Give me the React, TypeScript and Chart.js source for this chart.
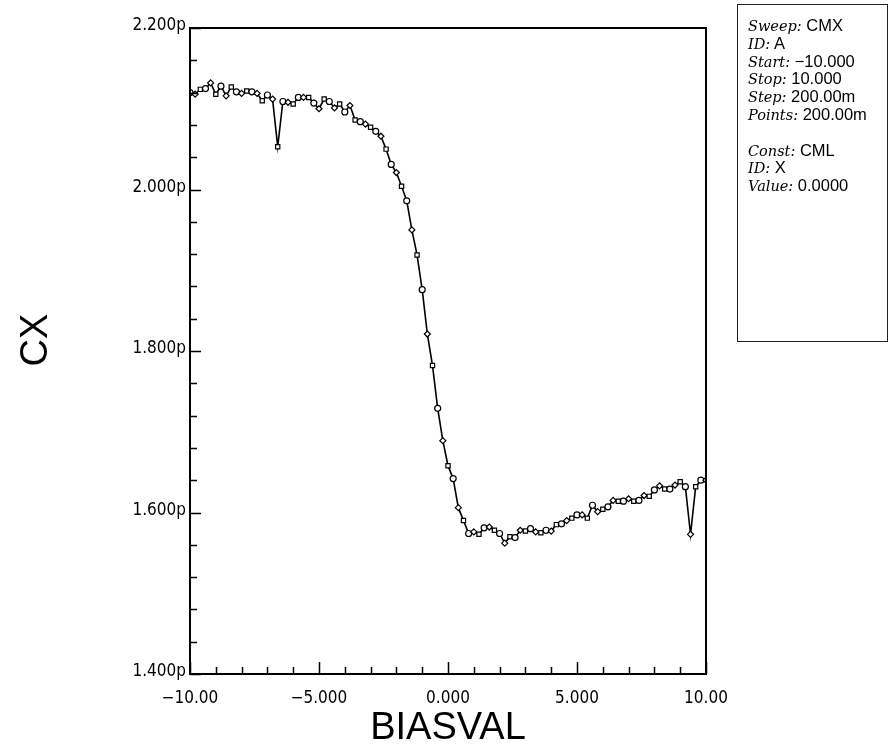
import React, { useEffect, useRef } from 'react';
import { Chart, registerables } from 'chart.js';

Chart.register(...registerables);

// Sweep values (BIASVAL)
const BIAS = [
  -10.0, -9.8, -9.6, -9.4, -9.2, -9.0, -8.8, -8.6, -8.4, -8.2,
  -8.0, -7.8, -7.6, -7.4, -7.2, -7.0, -6.8, -6.6, -6.4, -6.2,
  -6.0, -5.8, -5.6, -5.4, -5.2, -5.0, -4.8, -4.6, -4.4, -4.2,
  -4.0, -3.8, -3.6, -3.4, -3.2, -3.0, -2.8, -2.6, -2.4, -2.2,
  -2.0, -1.8, -1.6, -1.4, -1.2, -1.0, -0.8, -0.6, -0.4, -0.2,
  0.0, 0.2, 0.4, 0.6, 0.8, 1.0, 1.2, 1.4, 1.6, 1.8,
  2.0, 2.2, 2.4, 2.6, 2.8, 3.0, 3.2, 3.4, 3.6, 3.8,
  4.0, 4.2, 4.4, 4.6, 4.8, 5.0, 5.2, 5.4, 5.6, 5.8,
  6.0, 6.2, 6.4, 6.6, 6.8, 7.0, 7.2, 7.4, 7.6, 7.8,
  8.0, 8.2, 8.4, 8.6, 8.8, 9.0, 9.2, 9.4, 9.6, 9.8,
  10.0,
];

// Measured capacitance CX (pF)
const CX = [
  2.120, 2.118, 2.124, 2.125, 2.132, 2.118, 2.128, 2.116, 2.127, 2.121,
  2.119, 2.122, 2.121, 2.119, 2.110, 2.117, 2.112, 2.053, 2.109, 2.108,
  2.106, 2.114, 2.114, 2.114, 2.107, 2.100, 2.112, 2.109, 2.101, 2.106,
  2.096, 2.104, 2.086, 2.084, 2.081, 2.077, 2.072, 2.066, 2.050, 2.031,
  2.021, 2.004, 1.986, 1.950, 1.919, 1.876, 1.821, 1.782, 1.729, 1.689,
  1.658, 1.642, 1.606, 1.590, 1.574, 1.576, 1.573, 1.581, 1.582, 1.578,
  1.574, 1.562, 1.570, 1.569, 1.578, 1.577, 1.580, 1.576, 1.575, 1.578,
  1.577, 1.585, 1.586, 1.590, 1.593, 1.597, 1.597, 1.593, 1.609, 1.601,
  1.604, 1.607, 1.615, 1.614, 1.614, 1.617, 1.614, 1.615, 1.621, 1.620,
  1.628, 1.633, 1.629, 1.629, 1.634, 1.638, 1.632, 1.573, 1.632, 1.640,
  1.640,
];

const X_MAJOR = [-10, -5, 0, 5, 10];
const X_LABELS = ['\u221210.00', '\u22125.000', '0.000', '5.000', '10.00'];
const X_MINOR = [-9, -8, -7, -6, -4, -3, -2, -1, 1, 2, 3, 4, 6, 7, 8, 9];
const Y_MAJOR = [1.4, 1.6, 1.8, 2.0, 2.2];
const Y_LABELS = ['1.400p', '1.600p', '1.800p', '2.000p', '2.200p'];
const Y_MINOR = [1.44, 1.48, 1.52, 1.56, 1.64, 1.68, 1.72, 1.76, 1.84, 1.88, 1.92, 1.96, 2.04, 2.08, 2.12, 2.16];
const MARKERS = ['circle', 'rectRot', 'rect'];
const X_TITLE = 'BIASVAL';
const Y_TITLE = 'CX';

const LEGEND_LINES: [string, string][] = [
  ['Sweep:', 'CMX'],
  ['ID:', 'A'],
  ['Start:', '\u221210.000'],
  ['Stop:', '10.000'],
  ['Step:', '200.00m'],
  ['Points:', '200.00m'],
  ['', ''],
  ['Const:', 'CML'],
  ['ID:', 'X'],
  ['Value:', '0.0000'],
];

const NARROW = "'Liberation Sans Narrow', 'DejaVu Sans Condensed', 'Liberation Sans', sans-serif";

const axesPlugin = {
  id: 'hpAxes',
  afterDraw(chart: any) {
    const { ctx, chartArea, scales } = chart;
    const xs = scales.x;
    const ys = scales.y;
    const { left, right, top, bottom } = chartArea;
    ctx.save();
    ctx.strokeStyle = '#000';
    ctx.fillStyle = '#000';
    ctx.lineWidth = 2;
    ctx.strokeRect(left, top, right - left, bottom - top);

    ctx.lineWidth = 1.5;
    ctx.beginPath();
    X_MAJOR.forEach((v) => {
      const px = Math.round(xs.getPixelForValue(v)) + 0.5;
      ctx.moveTo(px, bottom);
      ctx.lineTo(px, bottom - 12);
    });
    X_MINOR.forEach((v) => {
      const px = Math.round(xs.getPixelForValue(v)) + 0.5;
      ctx.moveTo(px, bottom);
      ctx.lineTo(px, bottom - 7);
    });
    Y_MAJOR.forEach((v) => {
      const py = Math.round(ys.getPixelForValue(v)) + 0.5;
      ctx.moveTo(left, py);
      ctx.lineTo(left + 11, py);
    });
    Y_MINOR.forEach((v) => {
      const py = Math.round(ys.getPixelForValue(v)) + 0.5;
      ctx.moveTo(left, py);
      ctx.lineTo(left + 7, py);
    });
    ctx.stroke();

    ctx.font = `17px ${NARROW}`;
    ctx.textAlign = 'center';
    ctx.textBaseline = 'top';
    X_MAJOR.forEach((v, i) => {
      ctx.fillText(X_LABELS[i], xs.getPixelForValue(v), bottom + 16);
    });
    ctx.textAlign = 'right';
    ctx.textBaseline = 'alphabetic';
    Y_MAJOR.forEach((v, i) => {
      ctx.fillText(Y_LABELS[i], left - 4, ys.getPixelForValue(v) + 2);
    });

    ctx.font = "38px 'Liberation Sans', Arial, sans-serif";
    ctx.textAlign = 'center';
    ctx.textBaseline = 'alphabetic';
    ctx.fillText(X_TITLE, (left + right) / 2, 739);

    ctx.translate(47, 340);
    ctx.rotate(-Math.PI / 2);
    ctx.fillText(Y_TITLE, 0, 0);
    ctx.restore();
  },
};

export default function App() {
  const canvasRef = useRef<HTMLCanvasElement | null>(null);

  useEffect(() => {
    if (!canvasRef.current) return;
    const chart = new Chart(canvasRef.current, {
      type: 'line',
      data: {
        datasets: [
          {
            data: BIAS.map((x, i) => ({ x, y: CX[i] })),
            borderColor: '#000',
            borderWidth: 1.6,
            backgroundColor: '#fff',
            pointBackgroundColor: '#fff',
            pointBorderColor: '#000',
            pointBorderWidth: 1.2,
            pointRadius: 3,
            pointStyle: (c: any) => MARKERS[c.dataIndex % MARKERS.length] as any,
            tension: 0,
            fill: false,
          },
        ],
      },
      options: {
        responsive: false,
        animation: false,
        layout: { padding: { left: 190, right: 182, top: 28, bottom: 78 } },
        scales: {
          x: { type: 'linear', min: -10, max: 10, display: false },
          y: { type: 'linear', min: 1.4, max: 2.2, display: false },
        },
        plugins: {
          legend: { display: false },
          tooltip: { enabled: false },
        },
      },
      plugins: [axesPlugin],
    });
    return () => chart.destroy();
  }, []);

  return (
    <div style={{ position: 'absolute', left: 0, top: 0, width: 888, height: 752, background: '#fff' }}>
      <canvas ref={canvasRef} width={888} height={752} style={{ display: 'block' }} />
      <div
        style={{
          position: 'absolute',
          left: 737,
          top: 4,
          width: 151,
          height: 338,
          border: '1.5px solid #222',
          boxSizing: 'border-box',
          paddingTop: 12,
          paddingLeft: 10,
          color: '#000',
        }}
      >
        {LEGEND_LINES.map(([k, v], i) => (
          <div key={i} style={{ height: '17.8px', lineHeight: '17.8px', whiteSpace: 'nowrap' }}>
            <span style={{ fontFamily: "'DejaVu Serif', serif", fontStyle: 'italic', fontSize: 14.5 }}>{k}</span>
            {v ? <span style={{ fontFamily: "'Liberation Sans', Arial, sans-serif", fontSize: 16.5 }}> {v}</span> : null}
          </div>
        ))}
      </div>
    </div>
  );
}
